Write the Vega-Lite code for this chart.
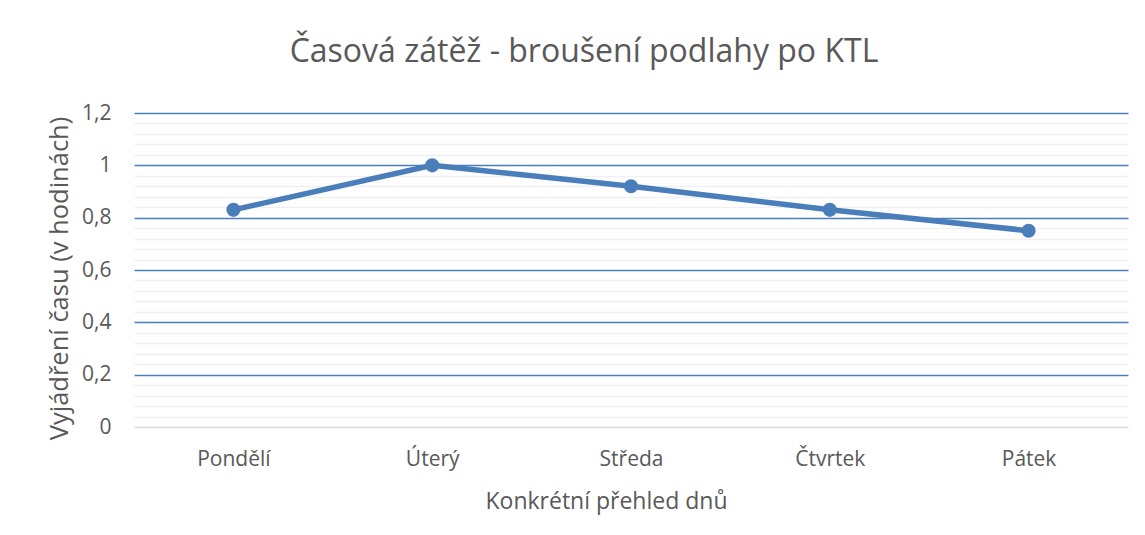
{
  "$schema": "https://vega.github.io/schema/vega-lite/v6.json",
  "width": 994,
  "height": 314,
  "autosize": "none",
  "padding": {"left": 134, "top": 113, "right": 17, "bottom": 108},
  "background": "white",
  "config": {"view": {"stroke": null}, "font": "Open Sans"},
  "title": {
    "text": "Časová zátěž - broušení podlahy po KTL",
    "fontSize": 32,
    "fontWeight": "normal",
    "color": "#595959",
    "font": "Open Sans",
    "anchor": "middle",
    "dx": -47,
    "offset": 33
  },
  "data": {
    "values": [
      {"den": "Pondělí", "hodiny": 0.83},
      {"den": "Úterý", "hodiny": 1.0},
      {"den": "Středa", "hodiny": 0.92},
      {"den": "Čtvrtek", "hodiny": 0.83},
      {"den": "Pátek", "hodiny": 0.75}
    ]
  },
  "mark": {
    "type": "line",
    "color": "#4A7EBB",
    "strokeWidth": 5.5,
    "point": {"filled": true, "size": 200, "color": "#4A7EBB", "opacity": 1}
  },
  "encoding": {
    "x": {
      "field": "den",
      "type": "ordinal",
      "sort": null,
      "scale": {"type": "point", "padding": 0.5},
      "axis": {
        "title": "Konkrétní přehled dnů",
        "titleFontSize": 23,
        "titleFontWeight": "normal",
        "titleColor": "#595959",
        "titleFont": "Open Sans",
        "titlePadding": 21,
        "titleX": 472,
        "labelAngle": 0,
        "labelFont": "Open Sans",
        "labelFontSize": 21,
        "labelColor": "#595959",
        "labelPadding": 21,
        "ticks": false,
        "domain": false,
        "grid": false
      }
    },
    "y": {
      "field": "hodiny",
      "type": "quantitative",
      "scale": {"domain": [0, 1.2], "nice": false},
      "axis": {
        "title": "Vyjádření času (v hodinách)",
        "titleFontSize": 25.5,
        "titleFontWeight": "normal",
        "titleColor": "#595959",
        "titleFont": "Open Sans",
        "titlePadding": 9,
        "titleY": 165,
        "values": [0, 0.04, 0.08, 0.12, 0.16, 0.2, 0.24, 0.28, 0.32, 0.36, 0.4, 0.44, 0.48, 0.52, 0.56, 0.6, 0.64, 0.68, 0.72, 0.76, 0.8, 0.84, 0.88, 0.92, 0.96, 1.0, 1.04, 1.08, 1.12, 1.16, 1.2],
        "labelExpr": "abs(round(datum.value*5)-datum.value*5) < 0.001 ? replace(format(datum.value, '.1~f'), '.', ',') : ''",
        "labelOverlap": false,
        "labelFont": "Open Sans",
        "labelFontSize": 21,
        "labelColor": "#595959",
        "labelPadding": 23,
        "ticks": false,
        "domain": false,
        "grid": true,
        "gridColor": {
          "condition": [
            {"test": "datum.value < 0.001", "value": "#D9D9D9"},
            {"test": "abs(round(datum.value*5)-datum.value*5) < 0.001", "value": "#4A7EBB"}
          ],
          "value": "#F0F0F0"
        },
        "gridWidth": 1.6,
        "gridOpacity": 1
      }
    }
  }
}
